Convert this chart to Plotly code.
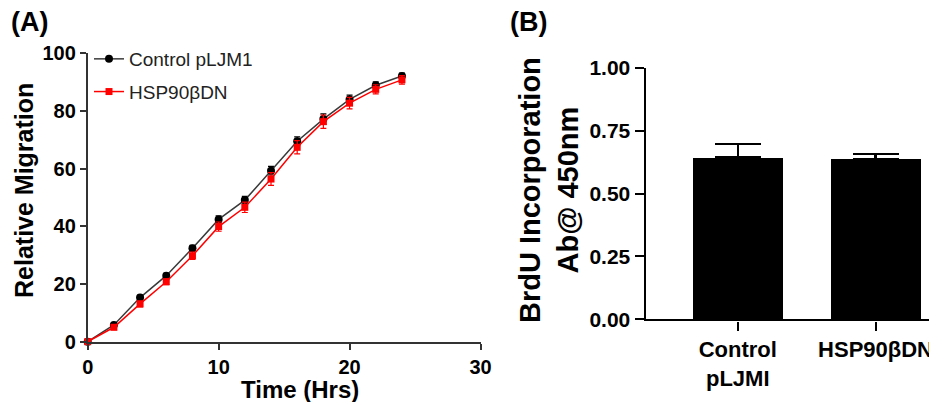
import plotly.graph_objects as go

# ---- Panel A data ----
time_hrs = [0, 2, 4, 6, 8, 10, 12, 14, 16, 18, 20, 22, 24]
control_mig = [0, 5.8, 15.3, 22.9, 32.4, 42.4, 49.1, 59.3, 69.5, 77.2, 84.0, 88.9, 92.1]
control_err = [0, 0.6, 0.8, 0.8, 1.0, 1.2, 1.3, 1.5, 1.5, 1.8, 1.5, 1.2, 1.0]
hsp_mig = [0, 5.0, 13.1, 20.8, 29.8, 39.9, 46.6, 56.4, 67.4, 76.3, 82.7, 87.5, 90.8]
hsp_err = [0, 0.8, 1.0, 1.0, 1.3, 1.6, 1.8, 2.2, 2.3, 2.3, 2.0, 1.6, 1.5]

# ---- Panel B data ----
groups = ["Control<br>pLJMI", "HSP90βDN"]
brdu = [0.644, 0.638]
brdu_err = [0.052, 0.020]

W, H = 937, 402
OFF = 8  # page body margin
FONT = "Liberation Sans, Arial, sans-serif"

def px_x(p):
    return (p - OFF) / W

def px_y(p):
    return 1 - (p - OFF) / H

fig = go.Figure()

fig.add_trace(go.Scatter(
    x=time_hrs, y=control_mig, name="Control pLJM1", mode="lines+markers",
    line=dict(color="#3a3a3a", width=1.5),
    marker=dict(symbol="circle", size=8, color="black"),
    error_y=dict(type="data", array=control_err, color="black", thickness=1.2, width=3),
    cliponaxis=False, xaxis="x", yaxis="y", legendgroup="a",
))
fig.add_trace(go.Scatter(
    x=time_hrs, y=hsp_mig, name="HSP90βDN", mode="lines+markers",
    line=dict(color="red", width=1.5),
    marker=dict(symbol="square", size=7, color="red"),
    error_y=dict(type="data", array=hsp_err, color="red", thickness=1.2, width=3),
    cliponaxis=False, xaxis="x", yaxis="y", legendgroup="b",
))

fig.add_trace(go.Bar(
    x=[0, 1], y=brdu, width=0.653,
    marker=dict(color="black", line=dict(width=0)),
    error_y=dict(type="data", array=brdu_err, arrayminus=[0, 0], symmetric=False,
                 color="black", thickness=2.2, width=23),
    showlegend=False, xaxis="x2", yaxis="y2",
))

tick_a = dict(family=FONT, size=20, color="black", weight="bold")
tick_b = dict(family=FONT, size=21, color="black", weight="bold")

fig.update_layout(
    width=W, height=H,
    margin=dict(l=0, r=0, t=0, b=0, autoexpand=False),
    paper_bgcolor="white", plot_bgcolor="white",
    font=dict(family=FONT, color="black"),
    xaxis=dict(
        domain=[px_x(87.7), px_x(480.5)], range=[0, 30],
        tickvals=[0, 10, 20, 30], showgrid=False, zeroline=False,
        showline=True, linecolor="#333", linewidth=1.8,
        ticks="outside", ticklen=6, tickwidth=1.5, tickcolor="#333",
        tickfont=tick_a, anchor="y", automargin=False,
    ),
    yaxis=dict(
        domain=[px_y(341.7), px_y(53.3)], range=[0, 100],
        tickvals=[0, 20, 40, 60, 80, 100], showgrid=False, zeroline=False,
        showline=True, linecolor="#333", linewidth=1.8,
        ticks="outside", ticklen=6, tickwidth=1.5, tickcolor="#333",
        tickfont=tick_a, anchor="x", automargin=False,
    ),
    xaxis2=dict(
        domain=[px_x(645.7), px_x(937)], range=[-0.668, 1.446],
        tickvals=[0, 1], ticktext=groups, showgrid=False, zeroline=False,
        showline=True, linecolor="black", linewidth=2.4,
        ticks="outside", ticklen=9, tickwidth=2.4, tickcolor="black",
        tickfont=dict(family=FONT, size=22, color="black", weight="bold"),
        anchor="y2", automargin=False,
    ),
    yaxis2=dict(
        domain=[px_y(319.3), px_y(67.7)], range=[0, 1.0],
        tickvals=[0, 0.25, 0.5, 0.75, 1.0], tickformat=".2f",
        showgrid=False, zeroline=False,
        showline=True, linecolor="black", linewidth=2.4,
        ticks="outside", ticklen=9, tickwidth=2.4, tickcolor="black",
        tickfont=tick_b, anchor="x2", automargin=False,
    ),
    legend=dict(
        x=px_x(89), y=px_y(40), xanchor="left", yanchor="top",
        font=dict(family=FONT, size=19, color="#222"),
        bgcolor="rgba(0,0,0,0)", itemwidth=30, tracegroupgap=5,
        traceorder="grouped",
    ),
    showlegend=True,
    bargap=0,
)

annotations = [
    dict(text="(A)", x=px_x(9), y=px_y(22), xanchor="left", yanchor="middle",
         font=dict(family=FONT, size=27, color="black", weight="bold")),
    dict(text="(B)", x=px_x(508), y=px_y(22), xanchor="left", yanchor="middle",
         font=dict(family=FONT, size=27, color="black", weight="bold")),
    dict(text="Relative Migration", x=px_x(24), y=px_y(191), textangle=-90,
         xanchor="center", yanchor="middle",
         font=dict(family=FONT, size=25, color="black", weight="bold")),
    dict(text="Time (Hrs)", x=px_x(300), y=px_y(389), xanchor="center", yanchor="middle",
         font=dict(family=FONT, size=24, color="black", weight="bold")),
    dict(text="BrdU Incorporation<br>Ab@ 450nm", x=px_x(549), y=px_y(190), textangle=-90,
         xanchor="center", yanchor="middle",
         font=dict(family=FONT, size=29, color="black", weight="bold")),
]
for a in annotations:
    a.update(xref="paper", yref="paper", showarrow=False)
fig.update_layout(annotations=annotations)

fig.write_html("out.html")
